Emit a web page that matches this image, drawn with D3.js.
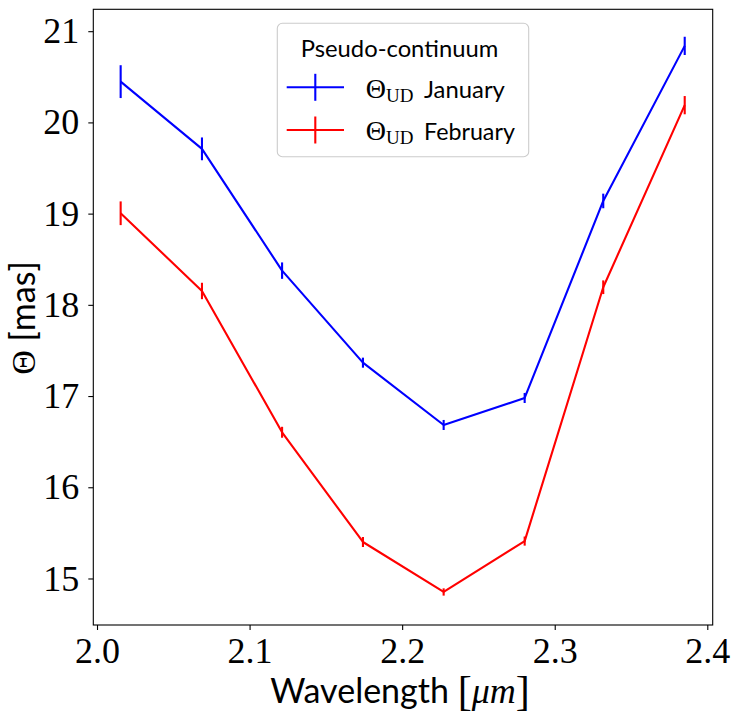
<!DOCTYPE html>
<html><head><meta charset="utf-8">
<script src="https://cdn.jsdelivr.net/npm/d3@7"></script>
<style>body{margin:0;background:#fff}</style>
</head><body><svg id="c" width="737" height="717"></svg>
<script>
// ---- data ----
const wavelength = [2.0155, 2.0688, 2.1213, 2.1743, 2.2272, 2.2803, 2.3318, 2.3852];
const januaryTheta = [20.447, 19.71, 18.375, 17.366, 16.683, 16.979, 19.139, 20.839];
const januaryErr   = [0.18, 0.125, 0.09, 0.055, 0.055, 0.055, 0.08, 0.10];
const februaryTheta = [19.004, 18.152, 16.603, 15.40, 14.852, 15.41, 18.193, 20.189];
const februaryErr   = [0.13, 0.09, 0.06, 0.055, 0.04, 0.05, 0.075, 0.10];
const xTicks = [2.0, 2.1, 2.2, 2.3, 2.4];
const yTicks = [15, 16, 17, 18, 19, 20, 21];
const legendTitle = "Pseudo-continuum";
const seriesNames = ["January", "February"];
const seriesColors = ["#0000ff", "#ff0000"];

const SANS = "Lato, 'Liberation Sans', sans-serif";
const SERIF = "'Liberation Serif', 'DejaVu Serif', serif";

const svg = d3.select("#c");
svg.append("rect").attr("width", 737).attr("height", 717).attr("fill", "#fff");

const L = 93.3, R = 712.7, T = 9.3, B = 625;
const x = d3.scaleLinear().domain([1.99757, 2.40354]).range([L, R]);
const y = d3.scaleLinear().domain([14.49, 21.24]).range([B, T]);

function fitWidth(sel, target) {
  const node = sel.node();
  const w = node.getBBox().width;
  const fs = parseFloat(sel.attr("font-size"));
  sel.attr("font-size", fs * target / w);
}

// axes
const xAxis = d3.axisBottom(x).tickValues(xTicks).tickFormat(d3.format(".1f"))
  .tickSize(5).tickSizeOuter(0).tickPadding(7);
const gx = svg.append("g").attr("transform", `translate(0,${B})`).call(xAxis);
const yAxis = d3.axisLeft(y).tickValues(yTicks).tickFormat(d3.format("d"))
  .tickSize(5).tickSizeOuter(0).tickPadding(9);
const gy = svg.append("g").attr("transform", `translate(${L},0)`).call(yAxis);
[gx, gy].forEach(g => {
  g.select(".domain").remove();
  g.selectAll(".tick line").attr("stroke", "#000").attr("stroke-width", 1.1);
  g.selectAll(".tick text").attr("font-family", SERIF).attr("font-weight", 400)
    .attr("font-size", 36).attr("fill", "#000");
});

// series
const series = [
  {vals: januaryTheta, errs: januaryErr, color: seriesColors[0]},
  {vals: februaryTheta, errs: februaryErr, color: seriesColors[1]}
];
const line = d3.line().x(d => x(d[0])).y(d => y(d[1]));
series.forEach(s => {
  const pts = wavelength.map((w, i) => [w, s.vals[i], s.errs[i]]);
  svg.append("path").datum(pts).attr("d", line).attr("fill", "none")
    .attr("stroke", s.color).attr("stroke-width", 2.1).attr("stroke-linejoin", "round");
  svg.append("g").selectAll("line").data(pts).join("line")
    .attr("x1", d => x(d[0])).attr("x2", d => x(d[0]))
    .attr("y1", d => y(d[1] - d[2])).attr("y2", d => y(d[1] + d[2]))
    .attr("stroke", s.color).attr("stroke-width", 2.1);
});

// frame
svg.append("rect").attr("x", L).attr("y", T).attr("width", R - L).attr("height", B - T)
  .attr("fill", "none").attr("stroke", "#000").attr("stroke-width", 1.1);

// legend
const lg = svg.append("g");
lg.append("rect").attr("x", 277.3).attr("y", 23.3).attr("width", 251.4).attr("height", 133.4)
  .attr("rx", 5).attr("fill", "#fff").attr("fill-opacity", 0.8)
  .attr("stroke", "#cccccc").attr("stroke-width", 1.1);
const lt = lg.append("text").attr("x", 399.5).attr("y", 57).attr("text-anchor", "middle")
  .attr("font-family", SANS).attr("font-weight", 400).attr("font-size", 25).attr("fill", "#000").text(legendTitle);
fitWidth(lt, 197.6);
const rowY = [87.3, 130];
const baseY = [98.3, 140];
const nameW = [81, 91];
seriesNames.forEach((nm, i) => {
  lg.append("line").attr("x1", 286.7).attr("x2", 344).attr("y1", rowY[i]).attr("y2", rowY[i])
    .attr("stroke", seriesColors[i]).attr("stroke-width", 2.1);
  lg.append("line").attr("x1", 315.3).attr("x2", 315.3).attr("y1", rowY[i] - 13.5).attr("y2", rowY[i] + 13.5)
    .attr("stroke", seriesColors[i]).attr("stroke-width", 2.1);
  const t = lg.append("text").attr("x", 365.7).attr("y", baseY[i]).attr("fill", "#000")
    .attr("font-family", SERIF).attr("font-weight", 400);
  t.append("tspan").attr("font-size", 28).text("Θ");
  t.append("tspan").attr("font-size", 19).attr("dy", 4).text("UD");
  const nt = lg.append("text").attr("x", 424).attr("y", baseY[i]).attr("fill", "#000")
    .attr("font-family", SANS).attr("font-weight", 400).attr("font-size", 25).text(nm);
  fitWidth(nt, nameW[i]);
});

// x label
const xl = svg.append("text").attr("x", 400).attr("y", 703).attr("text-anchor", "middle")
  .attr("fill", "#000").attr("font-size", 34).attr("font-weight", 400);
xl.append("tspan").attr("font-family", SANS).text("Wavelength ");
xl.append("tspan").attr("font-family", SERIF).attr("font-size", 42).attr("dy", 2).text("[");
xl.append("tspan").attr("font-family", SERIF).attr("font-style", "italic").attr("font-size", 36).attr("dy", -2).text("μm");
xl.append("tspan").attr("font-family", SERIF).attr("font-size", 42).attr("dy", 2).text("]");

// y label
const yl = svg.append("text").attr("transform", "translate(35,318) rotate(-90)")
  .attr("text-anchor", "middle").attr("fill", "#000").attr("font-size", 34).attr("font-weight", 400);
yl.append("tspan").attr("font-family", SERIF).attr("font-size", 34).text("Θ");
yl.append("tspan").attr("font-family", SANS).text(" [mas]");
</script></body></html>
